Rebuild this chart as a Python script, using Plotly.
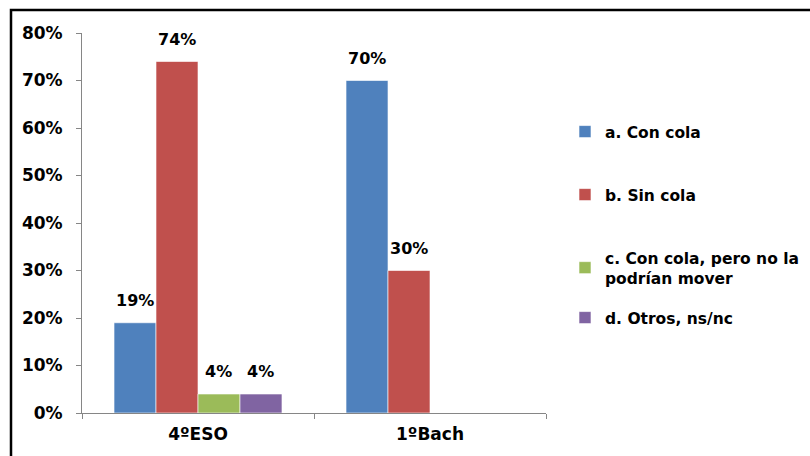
import plotly.graph_objects as go

# Survey answers per course level (percentages)
categories = ["4ºESO", "1ºBach"]
series_names = [
    "a. Con cola",
    "b. Sin cola",
    "c. Con cola, pero no la<br>podrían mover",
    "d. Otros, ns/nc",
]
con_cola = [19, 70]
sin_cola = [74, 30]
no_mover = [4, None]
otros = [4, None]
series_values = [con_cola, sin_cola, no_mover, otros]
colors = ["#4F81BD", "#C0504D", "#9BBB59", "#8064A2"]

W, H = 810, 456
M_L, M_R, M_T, M_B = 82, 264, 33, 43
PLOT_W = W - M_L - M_R
PLOT_H = H - M_T - M_B
BARGAP = 0.276
FONT = "DejaVu Sans"


def px_x(px):
    return (px - M_L) / PLOT_W


def px_y(py):
    return (H - M_B - py) / PLOT_H


fig = go.Figure()
legend_ids = ["legend", "legend2", "legend3", "legend4"]
for name, vals, col, lg in zip(series_names, series_values, colors, legend_ids):
    fig.add_trace(go.Bar(
        x=categories, y=vals, name=name, legend=lg,
        marker=dict(color=col, line=dict(color="white", width=0.6)),
    ))

# value labels above each bar
n = len(series_values)
bar_px = PLOT_W / len(categories) * (1 - BARGAP) / n
annotations = []
for i, vals in enumerate(series_values):
    for cat, v in zip(categories, vals):
        if v is None:
            continue
        annotations.append(dict(
            x=cat, y=v, xref="x", yref="y", text=f"{v}%", showarrow=False,
            xshift=(i - (n - 1) / 2) * bar_px, yshift=11, yanchor="bottom",
            font=dict(family=FONT, size=16, color="black", weight="bold"),
        ))

legend_font = dict(family=FONT, size=15.5, color="black", weight="bold")
legend_centers = [132, 195, 268, 318]
legends = {}
for lg, cy in zip(legend_ids, legend_centers):
    legends[lg] = dict(
        x=px_x(565), y=px_y(cy), xanchor="left", yanchor="middle",
        font=legend_font, bgcolor="rgba(0,0,0,0)", borderwidth=0,
        itemclick=False, itemdoubleclick=False,
    )

fig.update_layout(
    width=W, height=H,
    margin=dict(l=M_L, r=M_R, t=M_T, b=M_B, pad=0, autoexpand=False),
    paper_bgcolor="white", plot_bgcolor="white",
    barmode="group", bargap=BARGAP, bargroupgap=0,
    showlegend=True,
    annotations=annotations,
    shapes=[dict(
        type="rect", xref="paper", yref="paper",
        x0=px_x(11), x1=px_x(830), y0=px_y(480), y1=px_y(10),
        line=dict(color="black", width=2.5), layer="above",
    )],
    **legends,
)

fig.update_yaxes(
    range=[0, 80], dtick=10, ticksuffix="%", showgrid=False, zeroline=False,
    showline=True, linecolor="#868686", linewidth=1,
    ticks="outside", ticklen=5, tickcolor="#868686",
    ticklabelstandoff=10,
    tickfont=dict(family=FONT, size=17, color="black", weight="bold"),
)
fig.update_xaxes(
    showgrid=False, zeroline=False, showline=True, linecolor="#868686",
    linewidth=1, ticks="outside", ticklen=5, tickcolor="#868686",
    tickson="boundaries", ticklabelstandoff=6,
    tickfont=dict(family=FONT, size=17, color="black", weight="bold"),
)

fig.write_html("out.html")
